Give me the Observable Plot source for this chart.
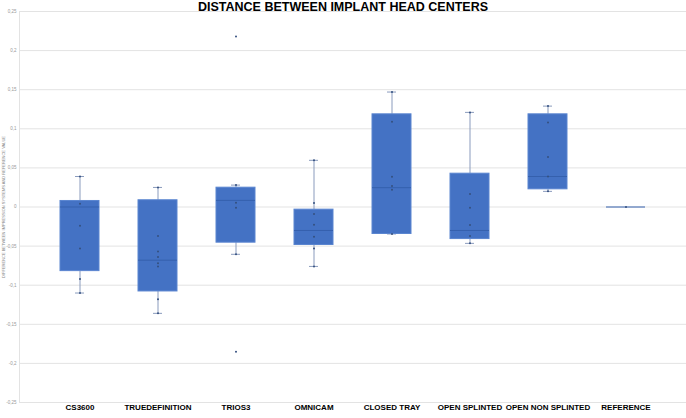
<!DOCTYPE html>
<html>
<head>
<meta charset="utf-8">
<script src="https://cdn.jsdelivr.net/npm/d3@7"></script>
<script src="https://cdn.jsdelivr.net/npm/@observablehq/plot@0.6"></script>
<style>
  body { margin: 0; background: #fff; }
  #wrap { position: relative; width: 686px; height: 418px; }
  #title { position: absolute; top: 0px; left: 0; width: 686px; text-align: center;
           font: bold 12.5px "Liberation Sans", Arial, sans-serif; color: #000; line-height: 14px; z-index: 2; }
  #ytitle { position: absolute; left: 0px; top: 207px; transform-origin: 0 0;
            font: 4px "Liberation Sans", Arial, sans-serif; color: #888; white-space: nowrap; }
</style>
</head>
<body>
<div id="wrap">
  <div id="title">DISTANCE BETWEEN IMPLANT HEAD CENTERS</div>
  <div id="chart"></div>
</div>
<script>
const categories = ["CS3600", "TRUEDEFINITION", "TRIOS3", "OMNICAM", "CLOSED TRAY", "OPEN SPLINTED", "OPEN NON SPLINTED", "REFERENCE"];
const whiskerLow  = [-0.110, -0.136, -0.0605, -0.076, -0.0345, -0.0465, 0.020, 0];
const quartile1   = [-0.082, -0.108, -0.0456, -0.0486, -0.0345, -0.041, 0.0226, 0];
const medians     = [0.000, -0.068, 0.0085, -0.030, 0.0247, -0.030, 0.039, 0];
const quartile3   = [0.0077, 0.0086, 0.0247, -0.0034, 0.1185, 0.0426, 0.1185, 0];
const whiskerHigh = [0.039, 0.025, 0.028, 0.0597, 0.147, 0.121, 0.129, 0];
const innerPoints = [
  [0.039, 0.004, -0.024, -0.053, -0.092, -0.110],
  [0.025, -0.037, -0.057, -0.064, -0.072, -0.076, -0.118, -0.136],
  [0.028, 0.0055, -0.001, -0.0605],
  [0.0597, 0.005, -0.009, -0.0226, -0.038, -0.053, -0.076],
  [0.147, 0.109, 0.0388, 0.027, 0.022, -0.0345],
  [0.121, 0.0166, -0.001, -0.023, -0.037, -0.0465],
  [0.129, 0.108, 0.064, 0.039, 0.020],
  [0]
];
const outlierCategory = ["TRIOS3", "TRIOS3"];
const outlierValues = [0.218, -0.185];
const yTicks = [-0.25, -0.2, -0.15, -0.1, -0.05, 0, 0.05, 0.1, 0.15, 0.2, 0.25];
const yTitle = "DIFFERENCE BETWEEN IMPRESSION SYSTEMS AND REFERENCE VALUE";

const boxes = categories.map((c, i) => ({
  cat: c, lo: whiskerLow[i], q1: quartile1[i], med: medians[i], q3: quartile3[i], hi: whiskerHigh[i]
}));
const pts = categories.flatMap((c, i) => innerPoints[i].map(v => ({cat: c, v})));
const outs = outlierValues.map((v, i) => ({cat: outlierCategory[i], v}));
const whiskerBoxes = boxes.filter(d => d.cat !== "REFERENCE");

const fmt = d => String(d).replace(".", ",");

const chart = Plot.plot({
  width: 686,
  height: 418,
  marginLeft: 19,
  marginRight: 0,
  marginTop: 11,
  marginBottom: 16,
  style: {fontFamily: "'Liberation Sans', Arial, sans-serif", background: "#fff"},
  x: {domain: categories, padding: 0.5, align: 0.5, label: null},
  y: {domain: [-0.25, 0.25], label: null},
  marks: [
    Plot.gridY(yTicks, {stroke: "#e3e3e3", strokeOpacity: 1}),
    Plot.frame({anchor: "left", stroke: "#e3e3e3"}),
    Plot.axisY(yTicks, {tickSize: 0, tickPadding: 3, tickFormat: fmt, fontSize: 4.5, fill: "#999"}),
    Plot.axisX({tickSize: 0, tickPadding: 2, fontSize: 8, fontWeight: "bold", fill: "#000"}),
    Plot.ruleX(whiskerBoxes, {x: "cat", y1: "lo", y2: "q1", stroke: "#8a9bbd", strokeWidth: 1}),
    Plot.ruleX(whiskerBoxes, {x: "cat", y1: "q3", y2: "hi", stroke: "#8a9bbd", strokeWidth: 1}),
    Plot.tickY(whiskerBoxes, {x: "cat", y: "lo", stroke: "#8a9bbd", insetLeft: 15, insetRight: 15}),
    Plot.tickY(whiskerBoxes, {x: "cat", y: "hi", stroke: "#8a9bbd", insetLeft: 15, insetRight: 15}),
    Plot.barY(boxes, {x: "cat", y1: "q1", y2: "q3", fill: "#4472c4", stroke: "#5a85d0", strokeWidth: 1}),
    Plot.tickY(boxes, {x: "cat", y: "med", stroke: "#3560ad", strokeWidth: 1}),
    Plot.dot(pts, {x: "cat", y: "v", r: 1, fill: "#34507f", stroke: "none"}),
    Plot.dot(outs, {x: "cat", y: "v", r: 1, fill: "#34507f", stroke: "none"})
  ]
});
document.getElementById("chart").appendChild(chart);

const yt = document.createElement("div");
yt.id = "ytitle";
yt.textContent = yTitle;
document.getElementById("wrap").appendChild(yt);
const w = yt.getBoundingClientRect().width;
yt.style.transform = `translate(1px, ${w / 2}px) rotate(-90deg)`;
</script>
</body>
</html>
